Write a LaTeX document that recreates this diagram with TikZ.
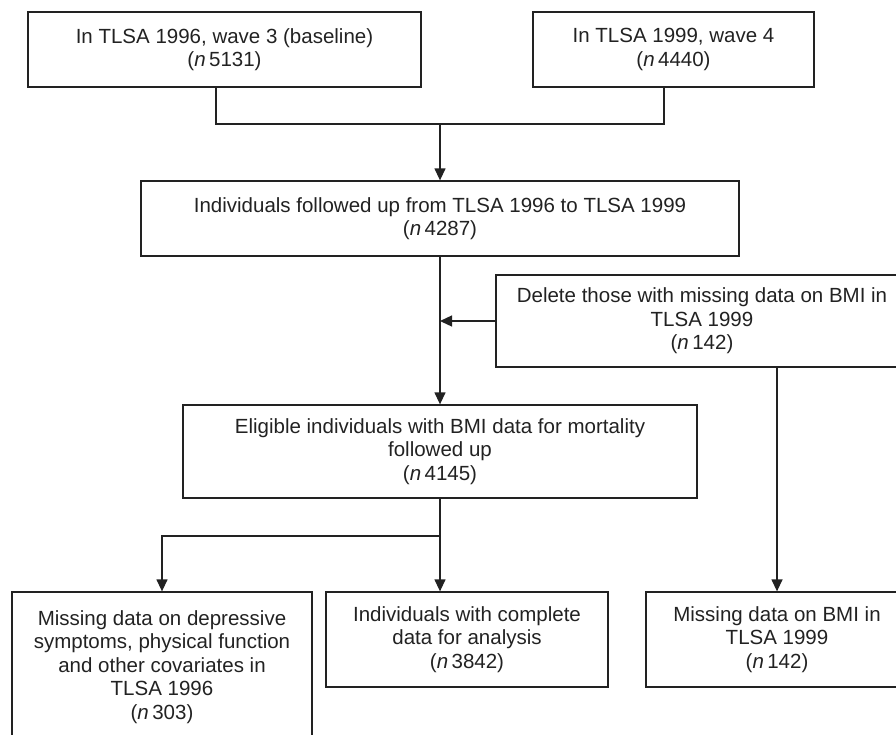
\documentclass[tikz,border=0pt]{standalone}
\usepackage{fontspec}
\setmainfont{Liberation Sans}
\usetikzlibrary{arrows.meta,positioning,calc}
\definecolor{inkgray}{RGB}{34,34,34}

\begin{document}
\begin{tikzpicture}[x=1pt,y=-1pt,
  % Plain rectangular stages of the cohort flow
  stage/.style={draw=inkgray,rectangle,line width=1.3pt,inner sep=0pt,
                align=center,text=inkgray,
                font=\fontsize{20.5}{23.5}\selectfont},
  link/.style={draw=inkgray,line width=1.3pt},
  arr/.style={link,-{Triangle[length=12pt,width=11pt]}}
]
  \clip (0,0) rectangle (896,734);

  % ---- Nodes (1 unit = 1 pixel of the page) ----
  \node[stage,minimum width=393pt,minimum height=75pt] (wave3)    at (224.5, 49.5) {In TLSA 1996, wave 3 (baseline)\\(\textit{n}\,5131)};
  \node[stage,minimum width=281pt,minimum height=75pt] (wave4)    at (673.5, 49.5) {In TLSA 1999, wave 4\\(\textit{n}\,4440)};
  \node[stage,minimum width=598pt,minimum height=75pt] (followup) at (440,  218.5) {Individuals followed up from TLSA 1996 to TLSA 1999\\(\textit{n}\,4287)};
  \node[stage,minimum width=412pt,minimum height=92pt] (delete)   at (702,  321)   {Delete those with missing data on BMI in\\TLSA 1999\\(\textit{n}\,142)};
  \node[stage,minimum width=514pt,minimum height=93pt] (eligible) at (440,  451.5) {Eligible individuals with BMI data for mortality\\followed up\\(\textit{n}\,4145)};
  % Bottom row
  \node[stage,minimum width=300pt,minimum height=150pt] (missdep)  at (162, 667)   {Missing data on depressive\\symptoms, physical function\\and other covariates in\\TLSA 1996\\(\textit{n}\,303)};
  \node[stage,minimum width=282pt,minimum height=95pt] (complete) at (467,  639.5) {Individuals with complete\\data for analysis\\(\textit{n}\,3842)};
  \node[stage,minimum width=262pt,minimum height=95pt] (missbmi)  at (777,  639.5) {Missing data on BMI in\\TLSA 1999\\(\textit{n}\,142)};

  % ---- Merge of the two waves ----
  \coordinate (join) at (440,124);
  \draw[link] ([xshift=-8.5pt]wave3.south) |- (join);
  \draw[link] ([xshift=-9.5pt]wave4.south) |- (join);
  \draw[arr]  (join) -- (followup.north);

  % ---- Main flow with exclusion ----
  \draw[arr] (followup.south) -- (eligible.north);
  \draw[arr] (delete.west) -- (delete.west -| followup.south);
  \draw[arr] (delete.south -| missbmi.north) -- (missbmi.north);

  % ---- Split into the bottom row ----
  \coordinate (split) at (440,536);
  \draw[arr] (eligible.south) -- (eligible.south |- complete.north);
  \draw[arr] (split) -| (missdep.north);
\end{tikzpicture}
\end{document}
